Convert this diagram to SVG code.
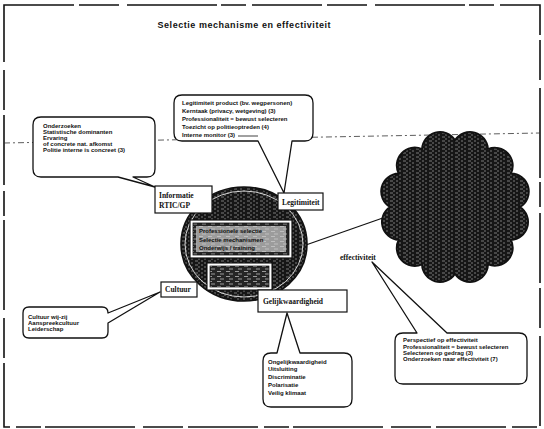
<svg xmlns="http://www.w3.org/2000/svg" width="544" height="429" viewBox="0 0 544 429">
  <style>
    .frame { fill: none; stroke: #111; stroke-width: 1.6; stroke-dasharray: 70 5 40 8 90 4 25 6; }
    .call { fill: #fff; stroke: #111; stroke-width: 1.3; stroke-linejoin: round; }
    .box { fill: #fff; stroke: #111; stroke-width: 1.2; }
    .note { font-family: "Liberation Sans", Arial, sans-serif; font-size: 6px; font-weight: bold; fill: #111; }
    .lbl { font-family: "Liberation Serif", "Times New Roman", serif; font-size: 7.5px; font-weight: bold; fill: #111; }
    .title { font-family: "Liberation Sans", Arial, sans-serif; font-size: 9px; font-weight: bold; fill: #111; }
    .link { fill: none; stroke: #111; stroke-width: 1.2; }
    .guide { fill: none; stroke: #333; stroke-width: 0.8; stroke-dasharray: 6 3 2 3; }
  </style>
  <defs>
    <!-- dense scanned-text look used for the filled shapes -->
    <pattern id="grain" width="13" height="4" patternUnits="userSpaceOnUse">
      <rect width="13" height="4" fill="#161616"/>
      <path d="M0 1H3M6 1H8M3 3H5M9 3H11" stroke="#bdbdbd" stroke-width="0.6"/>
    </pattern>
    <pattern id="grain2" width="9" height="5" patternUnits="userSpaceOnUse">
      <rect width="9" height="5" fill="#252525"/>
      <path d="M1 1.5H5M4 4H8" stroke="#cfcfcf" stroke-width="0.7"/>
    </pattern>
  </defs>

  <rect width="544" height="429" fill="#fff"/>
  <rect class="frame" x="4" y="5" width="536" height="422"/>

  <text class="title" x="244" y="28" text-anchor="middle" textLength="173">Selectie mechanisme en effectiviteit</text>

  <!-- faint guide line running behind the callouts -->
  <line class="guide" x1="4" y1="143" x2="540" y2="133"/>

  <!-- connectors -->
  <g id="connectors">
    <line class="link" x1="303" y1="246" x2="397" y2="213"/>
  </g>

  <!-- central mechanism -->
  <g id="mechanisme">
    <ellipse cx="244" cy="244" rx="63" ry="57" fill="url(#grain)" stroke="#111" stroke-width="1.6"/>
    <ellipse cx="244" cy="244" rx="59" ry="53" fill="none" stroke="#fff" stroke-width="0.8"/>
    <rect x="190" y="220" width="102" height="38" fill="#fff" stroke="#111" stroke-width="1.2"/>
    <rect x="193" y="223" width="96" height="32" fill="url(#grain2)" stroke="#111" stroke-width="0.8"/>
    <rect x="196" y="226" width="90" height="26" fill="#cfcfcf" opacity="0.7"/>
    <text class="note" x="199" y="233">Professionele selectie</text>
    <text class="note" x="199" y="242">Selectie mechanismen</text>
    <text class="note" x="199" y="250">Onderwijs / training</text>
    <rect x="207" y="263" width="65" height="27" fill="#fff" stroke="#111" stroke-width="1.1"/>
    <rect x="210" y="266" width="59" height="21" fill="url(#grain2)" stroke="#111" stroke-width="0.7"/>
  </g>

  <!-- effectiveness cloud -->
  <g id="effectiviteit">
    <path d="M520,207 A18,18 0 0 1 511,240 A18,18 0 0 1 488,264.5 A18,18 0 0 1 455,274 A18,18 0 0 1 422,264.5 A18,18 0 0 1 398.6,240 A18,18 0 0 1 390,207 A18,18 0 0 1 398.6,173.5 A18,18 0 0 1 422,149 A18,18 0 0 1 455,140 A18,18 0 0 1 488,149 A18,18 0 0 1 511,173.5 A18,18 0 0 1 520,207 Z" fill="url(#grain)" stroke="#111" stroke-width="1.8"/>
    <text class="lbl" x="340" y="260" font-size="7">effectiviteit</text>
    <path class="call" d="M403,333 H417 L372,262 L447,333 H519 Q527,333 527,341 V376 Q527,384 519,384 H403 Q395,384 395,376 V341 Q395,333 403,333 Z"/>
    <text class="note" x="403" y="342">Perspectief op effectiviteit</text>
    <text class="note" x="403" y="349">Professionaliteit = bewust selecteren</text>
    <text class="note" x="403" y="355">Selecteren op gedrag (3)</text>
    <text class="note" x="403" y="361">Onderzoeken naar effectiviteit (7)</text>
  </g>

  <!-- Informatie -->
  <g id="informatie">
    <path class="call" d="M41,117 H147 Q155,117 155,125 V169 Q155,177 147,177 H133 L155,187 L118,177 H41 Q33,177 33,169 V125 Q33,117 41,117 Z"/>
    <text class="note" x="43" y="128" font-size="5.5">Onderzoeken</text>
    <text class="note" x="43" y="134" font-size="5.5">Statistische dominanten</text>
    <text class="note" x="43" y="140" font-size="5.5">Ervaring</text>
    <text class="note" x="43" y="146" font-size="5.5">of concrete nat. afkomst</text>
    <text class="note" x="43" y="152" font-size="5.5">Politie interne is concreet (3)</text>
    <rect class="box" x="155" y="186" width="57" height="27"/>
    <text class="lbl" x="159" y="198">Informatie</text>
    <text class="lbl" x="159" y="208">RTIC/GP</text>
  </g>

  <!-- Legitimiteit -->
  <g id="legitimiteit">
    <path class="call" d="M182,95 H305 Q313,95 313,103 V133 Q313,141 305,141 H292 L284,193 L258,141 H182 Q174,141 174,133 V103 Q174,95 182,95 Z"/>
    <text class="note" x="182" y="105">Legitimiteit product (bv. wegpersonen)</text>
    <text class="note" x="182" y="113">Kerntaak (privacy, wetgeving) (3)</text>
    <text class="note" x="182" y="121">Professionaliteit = bewust selecteren</text>
    <text class="note" x="182" y="129">Toezicht op politieoptreden (4)</text>
    <text class="note" x="182" y="137">Interne monitor (3)</text>
    <line x1="238" y1="136" x2="258" y2="136" stroke="#111" stroke-width="0.8"/>
    <rect class="box" x="278" y="193" width="45" height="17"/>
    <text class="lbl" x="282" y="205">Legitimiteit</text>
  </g>

  <!-- Cultuur -->
  <g id="cultuur">
    <path class="call" d="M29,307 H102 Q108,307 108,313 L160,292 L108,323 V332 Q108,338 102,338 H29 Q23,338 23,332 V313 Q23,307 29,307 Z"/>
    <text class="note" x="28" y="319" font-size="5.5">Cultuur wij-zij</text>
    <text class="note" x="28" y="325" font-size="5.5">Aanspreekcultuur</text>
    <text class="note" x="28" y="331" font-size="5.5">Leiderschap</text>
    <rect class="box" x="161" y="282" width="36" height="15"/>
    <text class="lbl" x="165" y="292">Cultuur</text>
  </g>

  <!-- Gelijkwaardigheid -->
  <g id="gelijkwaardigheid">
    <path class="call" d="M271,353 H277 L287,313 L300,353 H344 Q352,353 352,361 V399 Q352,407 344,407 H271 Q263,407 263,399 V361 Q263,353 271,353 Z"/>
    <text class="note" x="268" y="364">Ongelijkwaardigheid</text>
    <text class="note" x="268" y="371">Uitsluiting</text>
    <text class="note" x="268" y="379">Discriminatie</text>
    <text class="note" x="268" y="387">Polarisatie</text>
    <text class="note" x="268" y="395">Veilig klimaat</text>
    <rect class="box" x="258" y="290" width="89" height="22"/>
    <text class="lbl" x="263" y="304" font-size="8">Gelijkwaardigheid</text>
  </g>
</svg>
